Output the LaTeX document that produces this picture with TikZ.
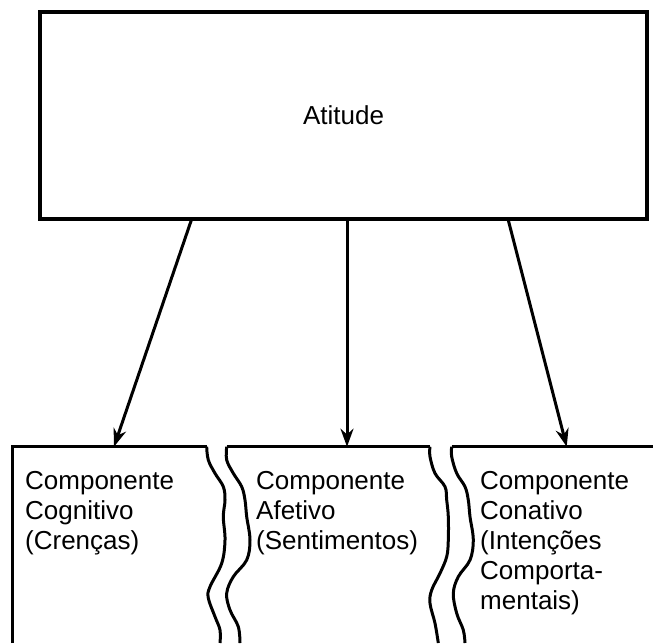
\documentclass[tikz,border=0pt]{standalone}
\usepackage{fontspec}
\setmainfont{Liberation Sans}
\usetikzlibrary{arrows.meta}
\begin{document}
\begin{tikzpicture}[x=1pt,y=-1pt,
  boxline/.style={line width=3pt, line join=miter},
  wavy/.style={line width=3pt, smooth, tension=0.6},
  arr/.style={line width=3pt, -{Stealth[length=18pt,width=13pt]}},
  lbl/.style={font=\fontsize{26}{30}\selectfont, inner sep=0pt, align=left, anchor=base west},
  toptext/.style={draw, line width=3.2pt, minimum width=607pt, minimum height=207pt, inner sep=0pt, font=\fontsize{26}{30}\selectfont}]
\useasboundingbox[fill=white] (0,0) rectangle (653,643);
% top box
\node[toptext] (att) at (343.5,115.5) {Atitude};
% arrow end points on the tops of the three boxes
\coordinate (t1) at (114,446.7);
\coordinate (t2) at (347,446.7);
\coordinate (t3) at (566.7,446.7);
\coordinate (s1) at (191.7,219);
\coordinate (s2) at (347,219);
\coordinate (s3) at (508,219);
% box 1
\draw[boxline] (12.7,643) -- (12.7,446.7) -- (206.7,446.7);
\draw[wavy] plot coordinates {(206.7,446.7) (208.3,460) (215,473.3) (223.3,486.7) (225,500) (223.3,516.7) (225,540) (221.7,563.3) (210,586.7) (208.3,598) (215,616.7) (220,630) (220,643)};
% box 2
\draw[boxline] (226.7,446.7) -- (430,446.7);
\draw[wavy] plot coordinates {(226.7,446.7) (226.7,460) (233.3,473.3) (241.7,486.7) (245,500) (246.7,516.7) (250,540) (246.7,560) (233.3,576.7) (226.7,593.3) (230,610) (238.3,626.7) (240,643)};
\draw[wavy] plot coordinates {(430,446.7) (430,456.7) (435,473.3) (445,486.7) (446.7,500) (448.3,516.7) (448.3,540) (446.7,556.7) (440,573.3) (431.7,590) (430,603.3) (435,623.3) (438.3,643)};
% box 3
\draw[boxline] (451.7,446.7) -- (653,446.7);
\draw[wavy] plot coordinates {(451.7,446.7) (451.7,456.7) (456.7,473.3) (465,486.7) (468.3,500) (470,516.7) (473.3,540) (470,560) (458.3,576.7) (453.3,593.3) (456.7,613.3) (463.3,630) (465,643)};
% texts (base anchor is the baseline of the last line)
\node[lbl] (c1) at (25,549) {Componente\\Cognitivo\\(Crenças)};
\node[lbl] (c2) at (256,549) {Componente\\Afetivo\\(Sentimentos)};
\node[lbl] (c3) at (480,609) {Componente\\Conativo\\(Intenções\\Comporta-\\mentais)};
% arrows
\draw[arr] (s1) -- (t1);
\draw[arr] (s2) -- (t2);
\draw[arr] (s3) -- (t3);
\end{tikzpicture}
\end{document}
